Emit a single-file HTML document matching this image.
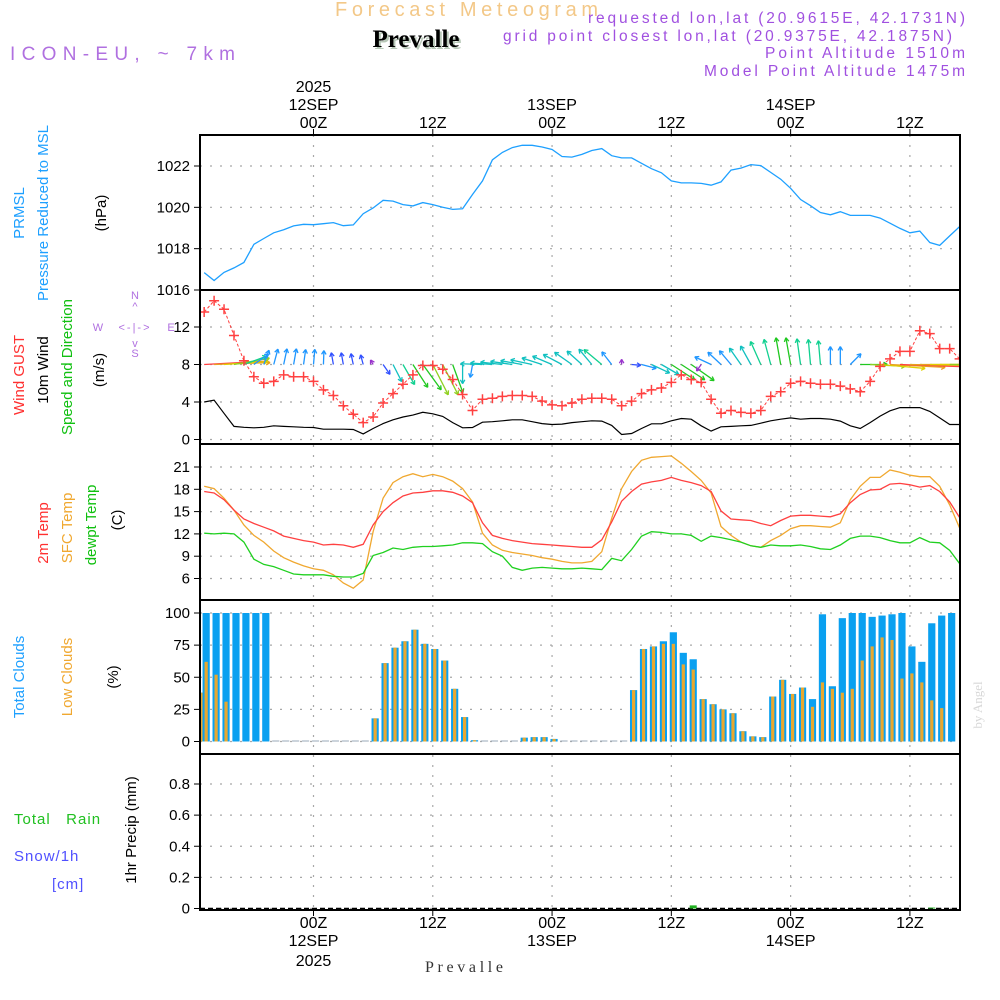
<!DOCTYPE html>
<html><head><meta charset="utf-8"><style>
html,body{margin:0;padding:0;background:#fff;}
svg{display:block;font-family:"Liberation Sans",sans-serif;}
</style></head><body>
<svg id="chart" width="1000" height="1000" viewBox="0 0 1000 1000" xmlns="http://www.w3.org/2000/svg">
<g>
<text x="335" y="16" textLength="263" lengthAdjust="spacing" font-size="20" fill="#f3c888">Forecast Meteogram</text>
<text x="418" y="49" text-anchor="middle" font-size="25" font-weight="bold" font-family="Liberation Serif,serif" fill="#b8c8b8">Prevalle</text>
<text x="416" y="47" text-anchor="middle" font-size="25" font-weight="bold" font-family="Liberation Serif,serif" fill="#000">Prevalle</text>
<text x="10" y="60" textLength="225" lengthAdjust="spacing" font-size="19" fill="#b070e0">ICON-EU, ~ 7km</text>
<text x="588" y="23" textLength="377" lengthAdjust="spacing" font-size="15.5" fill="#a050e0">requested lon,lat (20.9615E, 42.1731N)</text>
<text x="503" y="41" textLength="449" lengthAdjust="spacing" font-size="15.5" fill="#a050e0">grid point closest lon,lat (20.9375E, 42.1875N)</text>
<text x="765" y="58" textLength="200" lengthAdjust="spacing" font-size="15.5" fill="#a050e0">Point Altitude 1510m</text>
<text x="704" y="76" textLength="261" lengthAdjust="spacing" font-size="15.5" fill="#a050e0">Model Point Altitude 1475m</text>
</g>
<g font-size="15">
<text transform="translate(24,213) rotate(-90)" text-anchor="middle" fill="#1ea0ff">PRMSL</text>
<text transform="translate(48,213) rotate(-90)" text-anchor="middle" fill="#1ea0ff">Pressure Reduced to MSL</text>
<text transform="translate(106,213) rotate(-90)" text-anchor="middle" fill="#000">(hPa)</text>
<text transform="translate(24,375) rotate(-90)" text-anchor="middle" fill="#ff3030">Wind GUST</text>
<text transform="translate(48,370) rotate(-90)" text-anchor="middle" fill="#000">10m Wind</text>
<text transform="translate(72,367) rotate(-90)" text-anchor="middle" fill="#10c010">Speed and Direction</text>
<text transform="translate(104,370) rotate(-90)" text-anchor="middle" fill="#000">(m/s)</text>
<text transform="translate(48,533) rotate(-90)" text-anchor="middle" fill="#ff3030">2m Temp</text>
<text transform="translate(72,528) rotate(-90)" text-anchor="middle" fill="#f0a830">SFC Temp</text>
<text transform="translate(96,525) rotate(-90)" text-anchor="middle" fill="#10c010">dewpt Temp</text>
<text transform="translate(122,520) rotate(-90)" text-anchor="middle" fill="#000">(C)</text>
<text transform="translate(24,677) rotate(-90)" text-anchor="middle" fill="#1ea0ff">Total Clouds</text>
<text transform="translate(72,677) rotate(-90)" text-anchor="middle" fill="#f0a830">Low Clouds</text>
<text transform="translate(118,677) rotate(-90)" text-anchor="middle" fill="#000">(%)</text>
<text transform="translate(136,830) rotate(-90)" text-anchor="middle" fill="#000">1hr Precip (mm)</text>
<text x="14" y="824" fill="#20c020" letter-spacing="1" xml:space="preserve">Total   Rain</text>
<text x="14" y="861" fill="#5050ff" letter-spacing="1">Snow/1h</text>
<text x="52" y="889" fill="#5050ff" letter-spacing="1">[cm]</text>
</g>
<g font-size="11" fill="#b070e0" text-anchor="middle">
<text x="135" y="299">N</text><text x="135" y="310">^</text><text x="135" y="331" letter-spacing="2">&lt;-|-&gt;</text>
<text x="98" y="331">W</text><text x="171" y="331">E</text><text x="135" y="347">v</text><text x="135" y="357">S</text>
</g>
<text transform="translate(982,705) rotate(-90)" text-anchor="middle" font-size="13" font-family="Liberation Serif,serif" fill="#d8d8d8">by Angel</text>
<text x="425" y="972" textLength="78" lengthAdjust="spacing" font-size="16" font-family="Liberation Serif,serif" fill="#333">Prevalle</text>
<g id="plot"></g>
</svg>
<script>
const hourStart = -11;
const pressure = [1016.84,1016.46,1016.85,1017.07,1017.33,1018.21,1018.49,1018.77,1018.92,1019.1,1019.18,1019.16,1019.21,1019.26,1019.11,1019.15,1019.69,1019.97,1020.34,1020.3,1020.13,1020.07,1020.23,1020.13,1020.0,1019.9,1019.93,1020.62,1021.28,1022.3,1022.66,1022.89,1023.0,1023.0,1022.92,1022.8,1022.46,1022.43,1022.56,1022.75,1022.84,1022.5,1022.39,1022.39,1022.13,1021.87,1021.67,1021.28,1021.18,1021.18,1021.16,1021.07,1021.23,1021.8,1021.9,1022.07,1022.02,1021.69,1021.36,1020.92,1020.38,1020.08,1019.75,1019.64,1019.79,1019.61,1019.61,1019.61,1019.48,1019.23,1018.98,1018.77,1018.85,1018.3,1018.16,1018.62,1019.07];
const gust = [13.6,14.8,13.9,11.1,8.4,6.7,6.0,6.2,6.9,6.7,6.7,6.2,5.3,4.7,3.6,2.7,1.8,2.4,3.9,4.9,5.9,6.9,7.9,7.9,7.5,6.4,4.8,3.1,4.3,4.4,4.6,4.7,4.7,4.6,4.1,3.7,3.6,3.9,4.3,4.4,4.4,4.3,3.6,4.1,4.9,5.3,5.5,6.1,6.9,6.4,6.1,4.3,2.8,3.1,2.9,2.8,3.1,4.6,5.1,6.0,6.2,6.0,5.9,5.9,5.7,5.4,5.1,6.2,7.8,8.6,9.4,9.4,11.6,11.3,9.7,9.7,8.6];
const wind10m = [4.0,4.2,2.8,1.4,1.3,1.25,1.3,1.46,1.4,1.35,1.3,1.28,1.1,1.1,1.1,1.07,0.6,1.17,1.7,2.1,2.4,2.6,2.9,2.74,2.46,1.8,1.25,1.28,1.85,1.9,2.0,2.1,2.1,1.9,1.7,1.6,1.64,1.8,1.9,2.0,1.96,1.5,0.53,0.64,1.17,1.67,1.67,2.0,2.24,2.17,1.46,0.9,1.35,1.4,1.46,1.5,1.74,2.0,2.17,2.3,2.17,2.24,2.24,2.17,1.96,1.46,1.17,1.8,2.5,3.06,3.4,3.4,3.4,3.0,2.3,1.6,1.6];
const windDir = [3,2,4,10,20,35,70,75,78,80,82,85,88,100,100,102,105,120,-55,-63,-60,-57,-54,-63,-63,-70,-90,-100,178,176,174,172,170,168,162,157,152,145,138,130,140,128,90,-5,-15,-25,-30,-33,-33,-35,-125,155,137,130,125,119,114,105,100,100,98,95,95,90,90,45,0,-3,-5,-3,-2,-1,0,0,0,0,0];
const windArrowSpeed = [16,14,11,9,6,4.5,3.8,4,4,4,3.8,3.8,3.5,3,3,2.8,2.5,1.3,3,4.8,5.8,6.8,7.8,8.5,8.5,7.5,4.8,3.3,5.5,5.5,5.5,5.5,5.5,5.5,5.3,5.3,5.3,5.3,5,5,5.8,4,1.3,2.3,3.8,5,5,7,7,7,2,4.5,4.5,4.5,5,5.3,6.3,6.5,6.8,6.8,6.5,6.3,6,4.5,4.5,3.8,6.8,8.8,11.3,13.8,16,15,15,12.5,11.3,10,10];
const temp2m = [17.7,17.5,16.6,15.2,14.0,13.4,12.9,12.4,11.7,11.4,11.1,10.9,10.5,10.6,10.5,10.2,10.6,13.2,15.0,16.2,17.1,17.5,17.6,17.8,17.8,17.6,17.1,16.2,13.5,11.8,11.4,11.1,10.9,10.7,10.6,10.5,10.4,10.3,10.2,10.2,11.2,13.6,16.4,17.7,18.7,19.0,19.2,19.6,19.2,18.9,18.5,17.7,15.1,14.0,13.9,13.8,13.4,13.1,13.8,14.4,14.5,14.5,14.4,14.3,14.7,16.2,17.3,17.9,18.0,18.7,18.8,18.6,18.3,18.5,17.7,16.3,14.2];
const tempSfc = [18.4,18.1,16.8,15.2,13.2,11.8,10.9,9.7,8.8,8.2,7.7,7.3,7.1,6.5,5.4,4.7,5.8,12.3,16.8,18.9,19.7,20.1,19.7,20.0,19.7,19.1,18.1,16.3,12.1,10.5,9.8,9.5,9.3,9.1,8.8,8.6,8.3,8.1,8.1,8.3,9.6,14.1,18.1,20.4,21.9,22.3,22.4,22.5,21.5,20.4,19.2,17.5,13.0,11.8,10.9,10.4,10.2,11.1,11.8,12.7,13.1,13.1,13.0,12.9,13.5,16.6,18.4,19.6,19.6,20.6,20.3,19.9,19.7,19.7,18.4,15.9,12.8];
const dewpt = [12.1,12.0,12.1,12.0,10.9,8.6,7.9,7.6,7.1,6.6,6.5,6.5,6.5,6.3,6.2,6.2,6.7,9.1,9.5,10.1,9.9,10.2,10.3,10.3,10.4,10.5,10.8,10.8,10.7,9.6,9.0,7.5,7.1,7.4,7.5,7.4,7.3,7.3,7.4,7.3,7.2,8.7,8.4,9.9,11.7,12.3,12.2,12.0,12.0,11.8,11.0,11.7,11.5,11.2,10.9,10.4,10.2,10.5,10.4,10.4,10.5,10.3,10.0,9.9,10.5,11.4,11.7,11.7,11.5,11.1,10.8,10.8,11.5,10.9,10.8,9.8,8.0];
const cloudStart = -12;
const totalClouds = [38,100,100,100,100,100,100,100,0,0,0,0,0,0,0,0,0,0,18,61,73,78,87,76,72,63,41,19,1,0,0,0,0,3,3.4,3.4,2,0,0,0,0,0,0,0,40,72,74,78,85,69,64,33,29,25,22,8,4,3.4,35,48,37,42,33,99,43,96,100,100,97,98,99,100,74,62,92,98,100];
const lowClouds = [38,62,52,31,0,0,0,0,0,0,0,0,0,0,0,0,0,0,18,61,73,78,87,76,72,63,41,19,1,0,0,0,0,3,3.4,3.4,2,0,0,0,0,0,0,0,40,72,74,76,76,60,56,33,29,25,22,8,4,3.4,35,48,37,42,27,46,41,38,41,63,74,81,79,49,53,46,32,26,0];
const rainHours = [38,62];
const rainValues = [0.02,0.006];
const pTicks = [1016,1018,1020,1022];
const wTicks = [0,4,8,12];
const tTicks = [6,9,12,15,18,21];
const cTicks = [0,25,50,75,100];
const rTicks = [0,0.2,0.4,0.6,0.8];
const rTickLabels = ['0','0.2','0.4','0.6','0.8'];
const gridHours = [0,12,24,36,48,60];
const topLabels = [['2025','12SEP','00Z'],['','','12Z'],['','13SEP','00Z'],['','','12Z'],['','14SEP','00Z'],['','','12Z']];
const bottomLabels = [['00Z','12SEP','2025'],['12Z','',''],['00Z','13SEP',''],['12Z','',''],['00Z','14SEP',''],['12Z','','']];

const L=200,R=960;
const X = h => 313.5 + h*9.94;
const lin = (d0,d1,r0,r1) => v => r0 + (v-d0)*(r1-r0)/(d1-d0);
const Yp = lin(1016,1022,290,166);
const Yw = lin(0,12,439.5,327);
const Yt = lin(6,21,578.5,467);
const Yc = lin(0,100,741.5,613);
const Yr = lin(0,0.8,908.5,784);
const panels = [[135,290,'pressure'],[290,444,'wind'],[444,600,'temperature'],[600,754,'clouds'],[754,910,'precip']];

const NS='http://www.w3.org/2000/svg';
const plot=document.getElementById('plot');
function mk(tag,attrs,parent){const e=document.createElementNS(NS,tag);for(const k in attrs)e.setAttribute(k,attrs[k]);(parent||plot).appendChild(e);return e;}

const defs=mk('defs',{});
const cp=mk('clipPath',{id:'clip'},defs);
mk('rect',{x:L,y:135,width:R-L,height:775},cp);

const grid=mk('g',{});


function hgrid(ticks,Y){ticks.forEach(t=>{const y=Y(t);mk('line',{x1:L,x2:R,y1:y,y2:y,stroke:'#a8a8a8','stroke-width':1.2,'stroke-dasharray':'2 8'},grid);});}
hgrid(pTicks,Yp);hgrid(wTicks,Yw);hgrid(tTicks,Yt);hgrid(cTicks,Yc);hgrid(rTicks,Yr);
gridHours.forEach(h=>{const x=X(h);mk('line',{x1:x,x2:x,y1:135,y2:910,stroke:'#a8a8a8','stroke-width':1.2,'stroke-dasharray':'2 8'},grid);});

const tl=mk('g',{'font-size':15,'text-anchor':'end',fill:'#000'});


function yticks(ticks,Y,labels){ticks.forEach((t,i)=>{const y=Y(t);mk('line',{x1:L-6,x2:L,y1:y,y2:y,stroke:'#000'},tl);const tx=mk('text',{x:L-10,y:y+5},tl);tx.textContent=labels?labels[i]:String(t);});}
yticks(pTicks,Yp);yticks(wTicks,Yw);yticks(tTicks,Yt);yticks(cTicks,Yc);yticks(rTicks,Yr,rTickLabels);

const xl=mk('g',{'font-size':16,'text-anchor':'middle',fill:'#000'});


gridHours.forEach((h,i)=>{const x=X(h);
  mk('line',{x1:x,x2:x,y1:129,y2:135,stroke:'#000'},xl);
  mk('line',{x1:x,x2:x,y1:910,y2:916,stroke:'#000'},xl);
  [92,110,128].forEach((y,j)=>{if(topLabels[i][j]){const t=mk('text',{x:x,y:y},xl);t.textContent=topLabels[i][j];}});
  [928,946,966].forEach((y,j)=>{if(bottomLabels[i][j]){const t=mk('text',{x:x,y:y},xl);t.textContent=bottomLabels[i][j];}});
});

const series=mk('g',{'clip-path':'url(#clip)'});
function line(vals,Y,color,name,w){const pts=vals.map((v,i)=>X(hourStart+i).toFixed(1)+','+Y(v).toFixed(1)).join(' ');
  const p=mk('polyline',{points:pts,fill:'none',stroke:color,'stroke-width':w||1.3},series);
  
  return p;}

line(pressure,Yp,'#1ea0ff','pressure-line');

const cg=mk('g',{},series);


totalClouds.forEach((v,i)=>{let cx=X(cloudStart+i)+2;
  if(cx<L+1) cx=L+1.5;
  const y=Yc(v);const h=Math.max(Yc(0)-y,1);
  const b=mk('rect',{x:cx-3.6,y:Yc(0)-h,width:7.2,height:h,fill:v>0?'#0aa0f0':'#9aa8b8'},cg);
  
  
  const lv=lowClouds[i];
  if(lv>0){const ly=Yc(lv);const o=mk('rect',{x:cx-1.6,y:ly,width:3.2,height:Yc(0)-ly,fill:'#e8a830'},cg);
    
    }
});

mk('line',{x1:L,x2:R,y1:Yr(0),y2:Yr(0),stroke:'#000','stroke-width':1.5,'stroke-dasharray':'5 3'},series);
rainHours.forEach((h,i)=>{const x=X(h)+2;const y=Yr(rainValues[i]);
  const b=mk('rect',{x:x-3.5,y:y,width:7,height:Yr(0)-y,fill:'#20b020'},series);
  
  });

line(tempSfc,Yt,'#f0a830','sfc-temp-line');
line(temp2m,Yt,'#ff4040','temp-2m-line');
line(dewpt,Yt,'#20d020','dewpt-line');

line(wind10m,Yw,'#000','wind-10m-line',1.2);
function arrowColor(s){const c=['#9933cc','#3050ff','#1e96ff','#10c0c0','#10d090','#20c820','#90d020','#e0d000','#e8a020','#ff4040'];
  const th=[2,3.2,4.5,5.6,6.6,8,10,12.5,15];let k=0;while(k<th.length&&s>th[k])k++;return c[k];}
const wg=mk('g',{},series);


windDir.forEach((d,i)=>{const s=windArrowSpeed[i];const len=s*4;const x0=X(hourStart+i),y0=Yw(8);
  const a=d*Math.PI/180;const x1=x0+len*Math.cos(a),y1=y0-len*Math.sin(a);const col=arrowColor(s);
  const g=mk('g',{stroke:col,'stroke-width':1.3,fill:'none'},wg);
  
  
  mk('line',{x1:x0,y1:y0,x2:x1,y2:y1},g);
  const hl=4.5;[150,-150].forEach(o=>{const b=a+o*Math.PI/180;mk('line',{x1:x1,y1:y1,x2:x1+hl*Math.cos(b),y2:y1-hl*Math.sin(b)},g);});
});
const gg=mk('g',{},series);


const gl=line(gust,Yw,'#ff4040','gust-line',1);gl.setAttribute('stroke-dasharray','3 2');
gust.forEach((v,i)=>{const x=X(hourStart+i),y=Yw(v);
  const p=mk('path',{d:`M${x-5},${y}H${x+5}M${x},${y-5}V${y+5}`,stroke:'#ff4040','stroke-width':1.5},gg);
  
  });

panels.forEach(([t,b,n])=>{const r=mk('rect',{x:L,y:t,width:R-L,height:b-t,fill:'none',stroke:'#000','stroke-width':2});
  
  });
</script>
</body></html>
